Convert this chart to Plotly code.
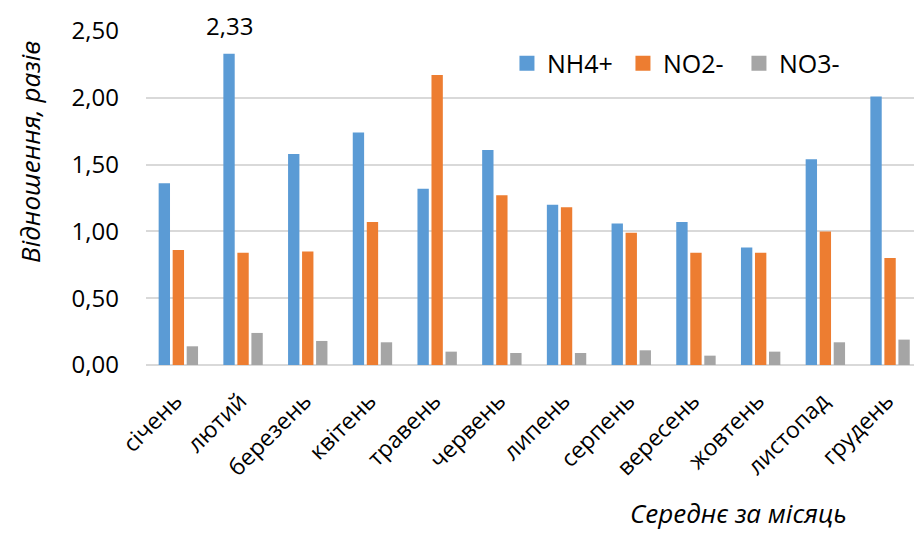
import plotly.graph_objects as go

months = ["січень", "лютий", "березень", "квітень", "травень", "червень",
          "липень", "серпень", "вересень", "жовтень", "листопад", "грудень"]
nh4 = [1.36, 2.33, 1.58, 1.74, 1.32, 1.61, 1.20, 1.06, 1.07, 0.88, 1.54, 2.01]
no2 = [0.86, 0.84, 0.85, 1.07, 2.17, 1.27, 1.18, 0.99, 0.84, 0.84, 1.00, 0.80]
no3 = [0.14, 0.24, 0.18, 0.17, 0.10, 0.09, 0.09, 0.11, 0.07, 0.10, 0.17, 0.19]

series = [("NH4+", nh4, "#5B9BD5"), ("NO2-", no2, "#ED7D31"), ("NO3-", no3, "#A5A5A5")]

FONT = "Open Sans"
W, H = 914, 533
ML, MR, MT, MB = 146, 0, 31, 168

fig = go.Figure()
for name, vals, color in series:
    fig.add_trace(go.Bar(x=months, y=vals, name=name, legendgroup=name,
                         showlegend=False,
                         marker=dict(color=color, line=dict(width=0))))
# legend entries with larger square swatches
for name, vals, color in series:
    fig.add_trace(go.Scatter(x=[None], y=[None], name=name, legendgroup=name,
                             mode="markers",
                             marker=dict(symbol="square", size=15, color=color)))

# value label above the tallest February bar
lbl_idx = 1
fig.add_annotation(x=months[lbl_idx], y=nh4[lbl_idx], xref="x", yref="y",
                   text=f"{nh4[lbl_idx]:.2f}".replace(".", ","),
                   showarrow=False, xshift=-14, yshift=28,
                   xanchor="center", yanchor="middle",
                   font=dict(family=FONT, size=24, color="#000000"))

fig.add_annotation(x=-0.151, y=0.638, xref="paper", yref="paper",
                   text="Відношення, разів", textangle=-90, showarrow=False,
                   xanchor="center", yanchor="middle",
                   font=dict(family=FONT, size=26, color="#000000", style="italic"))
fig.add_annotation(x=0.771, y=-0.443, xref="paper", yref="paper",
                   text="Середнє за місяць", showarrow=False,
                   xanchor="center", yanchor="middle",
                   font=dict(family=FONT, size=26, color="#000000", style="italic"))

fig.update_layout(
    width=W, height=H,
    margin=dict(l=ML, r=MR, t=MT, b=MB, pad=0),
    paper_bgcolor="white", plot_bgcolor="white",
    separators=", ",
    barmode="group", bargap=0.35, bargroupgap=0.19,
    font=dict(family=FONT, color="#000000"),
    legend=dict(orientation="h", x=0.47, y=0.903, xanchor="left", yanchor="middle",
                font=dict(family=FONT, size=25, color="#000000"),
                bgcolor="rgba(0,0,0,0)", itemwidth=30, traceorder="normal",
                itemsizing="trace", entrywidth=71),
)
fig.update_xaxes(range=[-0.5, 11.37], tickangle=-45, showgrid=False,
                 showline=False, ticks="", ticklabelstandoff=17, ticklabelshift=-3,
                 tickfont=dict(family=FONT, size=23, color="#000000"))
fig.update_yaxes(range=[0, 2.5], dtick=0.5, tickformat=".2f",
                 showgrid=True, gridcolor="#D9D9D9", gridwidth=1.5,
                 zeroline=True, zerolinecolor="#D9D9D9", zerolinewidth=1.5,
                 showline=False, ticks="", ticklabelstandoff=26,
                 tickfont=dict(family=FONT, size=24, color="#000000"))

fig.write_html("out.html")
